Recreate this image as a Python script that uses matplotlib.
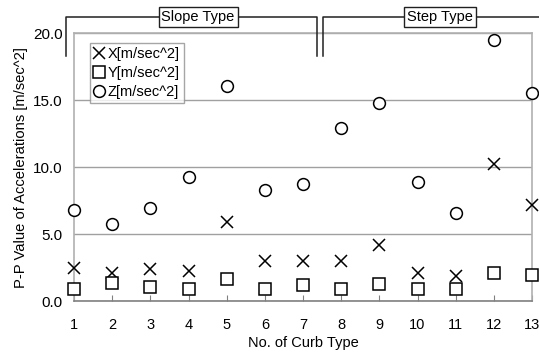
import matplotlib
matplotlib.use("Agg")
import matplotlib.pyplot as plt

plt.rcParams['font.family'] = ['Liberation Sans', 'DejaVu Sans']
plt.rcParams['font.size'] = 10

curb = [1, 2, 3, 4, 5, 6, 7, 8, 9, 10, 11, 12, 13]
x_acc = [2.52, 2.08, 2.40, 2.25, 5.94, 2.99, 3.01, 3.01, 4.23, 2.08, 1.90, 10.24, 7.15]
y_acc = [0.91, 1.34, 1.09, 0.91, 1.66, 0.91, 1.21, 0.89, 1.26, 0.89, 0.89, 2.12, 1.95]
z_acc = [6.78, 5.74, 6.93, 9.25, 16.1, 8.29, 8.76, 12.9, 14.8, 8.91, 6.58, 19.5, 15.56]
yticks = [0.0, 5.0, 10.0, 15.0, 20.0]
groups = ["Slope Type", "Step Type"]

fig = plt.figure(figsize=(5.39, 3.55), dpi=100)
ax = fig.add_axes([74/539, 1-301.3/355, 458/539, 268/355])

ax.plot(curb, x_acc, linestyle='none', marker='x', ms=8.5, mew=1.1,
        color='black', label='X[m/sec^2]', clip_on=False, zorder=5)
ax.plot(curb, y_acc, linestyle='none', marker='s', ms=8.5, mew=1.1,
        mfc='white', mec='black', label='Y[m/sec^2]', clip_on=False, zorder=5)
ax.plot(curb, z_acc, linestyle='none', marker='o', ms=8.5, mew=1.1,
        mfc='white', mec='black', label='Z[m/sec^2]', clip_on=False, zorder=5)

ax.set_xlim(1, 13)
ax.set_ylim(0, 20)
ax.set_xticks(curb)
ax.set_yticks(yticks)
ax.set_yticklabels([f"{v:.1f}" for v in yticks])
ax.yaxis.grid(True, color='#a0a0a0', linewidth=1.0)
ax.set_axisbelow(True)
ax.tick_params(axis='x', direction='in', length=4, color='#808080', pad=12, labelsize=10.5)
ax.tick_params(axis='y', length=0, pad=8, labelsize=11)
for s in ['left', 'top', 'right']:
    ax.spines[s].set_color('#b0b0b0')
    ax.spines[s].set_linewidth(1.2)
ax.spines['bottom'].set_color('#808080')
ax.spines['bottom'].set_linewidth(1.2)

ax.set_xlabel('No. of Curb Type', fontsize=10.5, labelpad=3)
ax.set_ylabel('P-P Value of Accelerations [m/sec^2]', fontsize=10.6, labelpad=4)

leg = ax.legend(loc='upper left', bbox_to_anchor=(0.036, 0.962), frameon=True,
                fancybox=False, edgecolor='#909090', handlelength=0.7,
                handletextpad=0.25, borderpad=0.25, labelspacing=0.35,
                borderaxespad=0, fontsize=10.5)
leg.get_frame().set_linewidth(1.0)

# group brackets above the plot
yb_top, yb_bot = 21.2, 18.3
brackets = [(0.79, 7.37, 4.25), (7.52, 13.6, 10.59)]
for (x0, x1, xc), name in zip(brackets, groups):
    ax.plot([x0, x0, x1, x1], [yb_bot, yb_top, yb_top, yb_bot], color='#202020',
            lw=1.1, clip_on=False, zorder=6)
    ax.text(xc, yb_top, name, ha='center', va='center', fontsize=10.5,
            bbox=dict(boxstyle='square,pad=0.2', fc='white', ec='#202020', lw=1.0),
            zorder=7, clip_on=False)

fig.savefig('out.png', dpi=100)
